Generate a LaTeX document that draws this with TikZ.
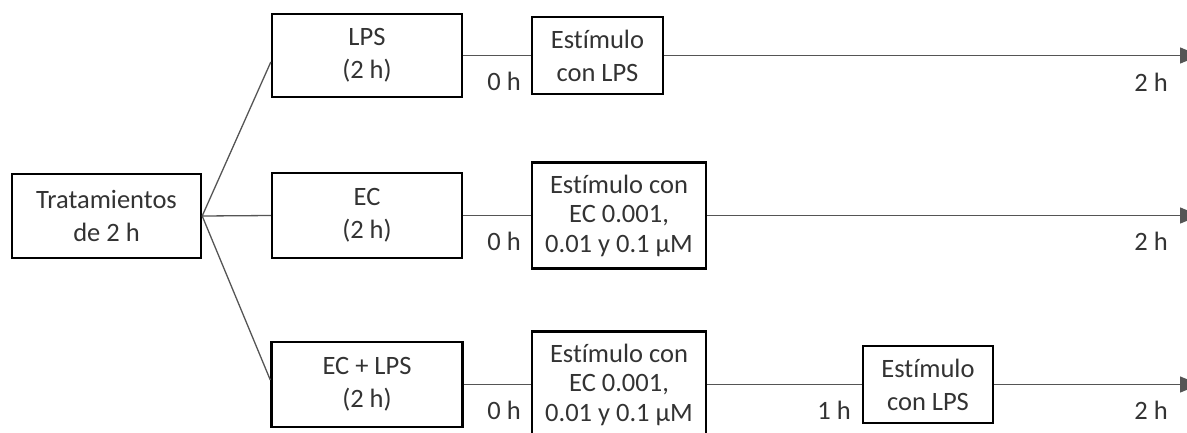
\documentclass[tikz,border=0pt]{standalone}
\usepackage{fontspec}
\setmainfont{Carlito}[Ligatures=NoCommon]
\usetikzlibrary{arrows.meta,calc}
\definecolor{txt}{HTML}{333333}
\definecolor{con}{HTML}{555555}
\begin{document}
\begin{tikzpicture}[x=1pt,y=-1pt,
  box/.style={draw=black,line width=2.4pt,align=center,inner sep=0pt,text=txt,
    font=\fontsize{26.5}{33}\selectfont},
  tbox/.style={box,font=\fontsize{26.5}{29.5}\selectfont},
  lbl/.style={text=txt,inner sep=0pt,font=\fontsize{26.5}{30}\selectfont},
  conn/.style={draw=con,line width=1.3pt},
  arr/.style={conn,-{Triangle[length=20pt,width=16pt]}}]
\useasboundingbox (0,0) rectangle (1187,432);
\node[box,minimum width=189pt,minimum height=84pt] (trat) at (106.5,216) {Tratamientos\\de 2 h};
\node[box,minimum width=190pt,minimum height=83pt] (lps) at (367,55.5) {LPS\\(2 h)};
\node[box,minimum width=190pt,minimum height=85pt] (ec) at (367,215.5) {EC\\(2 h)};
\node[box,minimum width=191pt,minimum height=85pt] (eclps) at (367,384.5) {EC + LPS\\(2 h)};
\node[box,minimum width=131pt,minimum height=77pt] (s1) at (597.5,55.5) {Estímulo\\con LPS};
\node[tbox,minimum width=174pt,minimum height=106pt] (s2) at (619,215.5) {Estímulo con\\EC 0.001,\\0.01 y 0.1 µM};
\node[tbox,minimum width=174pt,minimum height=106pt] (s3) at (619,384.5) {Estímulo con\\EC 0.001,\\0.01 y 0.1 µM};
\node[box,minimum width=130pt,minimum height=77pt] (s4) at (928,384.5) {Estímulo\\con LPS};
\coordinate (e1) at (1200,55.5);
\coordinate (e2) at (1200,215.5);
\coordinate (e3) at (1200,384.5);
\node[lbl] (h01) at (504,81) {0 h};
\node[lbl] (h02) at (504,241) {0 h};
\node[lbl] (h03) at (504,410) {0 h};
\node[lbl] (h13) at (834,410) {1 h};
\node[lbl] (h21) at (1151,82) {2 h};
\node[lbl] (h22) at (1151,241) {2 h};
\node[lbl] (h23) at (1151,410) {2 h};
\draw[conn] (trat.east) -- ($(lps.west)+(0,6.5)$);
\draw[conn] (trat.east) -- (ec.west);
\draw[conn] (trat.east) -- ($(eclps.west)+(0,-4.5)$);
\draw[conn] (lps.east) -- (s1.west);
\draw[conn] (ec.east) -- (s2.west);
\draw[conn] (eclps.east) -- (s3.west);
\draw[conn] (s3.east) -- (s4.west);
\draw[arr] (s1.east) -- (e1);
\draw[arr] (s2.east) -- (e2);
\draw[arr] (s4.east) -- (e3);
\end{tikzpicture}
\end{document}
